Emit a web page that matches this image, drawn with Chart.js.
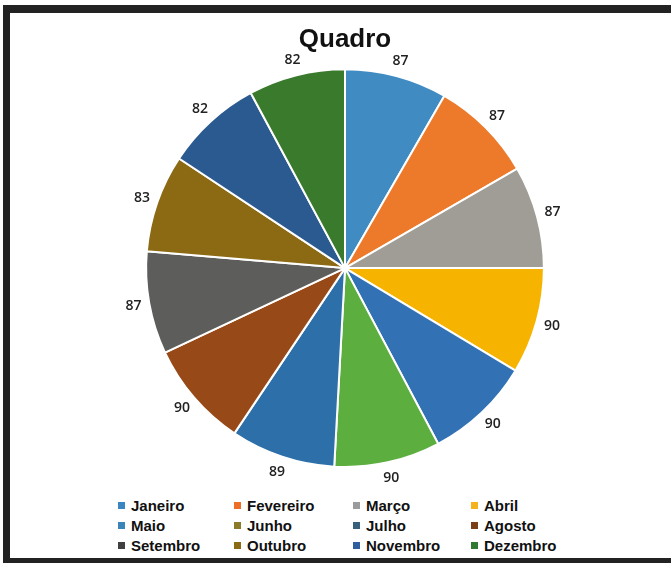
<!DOCTYPE html>
<html>
<head>
<meta charset="utf-8">
<script src="https://cdn.jsdelivr.net/npm/chart.js@4/dist/chart.umd.min.js"></script>
<style>
  html, body { margin: 0; padding: 0; background: #fff; }
  #page { position: relative; width: 671px; height: 563px; overflow: hidden; background: #fff; }
  .frame { position: absolute; background: #222; }
  #chartBox { position: absolute; left: 0; top: 0; width: 671px; height: 490px; }
  #legend {
    position: absolute; left: 118px; top: 495px; width: 480px;
    display: grid; grid-template-columns: 116px 119px 118px 120px;
    font-family: "Liberation Sans", Arial, sans-serif;
    font-weight: bold; font-size: 15px; color: #111;
  }
  #legend .item { display: flex; align-items: center; height: 20px; white-space: nowrap; }
  #legend .box { width: 7px; height: 7px; margin-right: 6px; flex: none; }
</style>
</head>
<body>
<div id="page">
  <div id="chartBox"><canvas id="chart"></canvas></div>
  <div id="legend"></div>
  <div class="frame" style="left:3px; top:5px; width:7px; height:558px;"></div>
  <div class="frame" style="left:3px; top:5px; width:668px; height:8px;"></div>
  <div class="frame" style="left:3px; top:558px; width:668px; height:5px;"></div>
</div>
<script>
const months = ['Janeiro', 'Fevereiro', 'Março', 'Abril', 'Maio', 'Junho',
  'Julho', 'Agosto', 'Setembro', 'Outubro', 'Novembro', 'Dezembro'];
const values = [87, 87, 87, 90, 90, 90, 89, 90, 87, 83, 82, 82];
const sliceColors = ['#3f8bc2', '#ec7a2a', '#a09d96', '#f6b400', '#3271b4', '#5cae3f',
  '#2d6fa9', '#974a17', '#5d5d5b', '#8c6a14', '#2b5a90', '#3a7a2c'];
const legendColors = ['#3a86c0', '#ec6f25', '#9b9b9b', '#f5b21c', '#3a84b8', '#8a7a2a',
  '#36607c', '#7a3f16', '#404040', '#8a6a14', '#2f5f9c', '#2f7a30'];

// value labels just outside each slice
const outsideLabels = {
  id: 'outsideLabels',
  afterDatasetsDraw(chart) {
    const ctx = chart.ctx;
    const meta = chart.getDatasetMeta(0);
    ctx.save();
    ctx.font = '600 14px "Open Sans", sans-serif';
    ctx.fillStyle = '#222';
    ctx.textAlign = 'center';
    ctx.textBaseline = 'middle';
    meta.data.forEach((arc, i) => {
      const p = arc.getProps(['x', 'y', 'startAngle', 'endAngle', 'outerRadius'], true);
      const mid = (p.startAngle + p.endAngle) / 2;
      const r = p.outerRadius + 16;
      ctx.fillText(values[i], p.x + Math.cos(mid) * r, p.y + Math.sin(mid) * r);
    });
    ctx.restore();
  }
};

new Chart(document.getElementById('chart').getContext('2d'), {
  type: 'pie',
  data: {
    labels: months,
    datasets: [{
      data: values,
      backgroundColor: sliceColors,
      borderColor: '#ffffff',
      borderWidth: 2,
    }]
  },
  options: {
    responsive: true,
    maintainAspectRatio: false,
    animation: false,
    layout: { padding: { left: 145, right: 126, top: 0, bottom: 22 } },
    plugins: {
      legend: { display: false },
      tooltip: { enabled: false },
      title: {
        display: true,
        text: 'Quadro',
        color: '#111',
        font: { size: 26, weight: 'bold', family: '"Liberation Sans", Arial, sans-serif' },
        padding: { top: 24, bottom: 13 }
      }
    }
  },
  plugins: [outsideLabels]
});

const legendEl = document.getElementById('legend');
months.forEach((m, i) => {
  const item = document.createElement('div');
  item.className = 'item';
  item.innerHTML = `<span class="box" style="background:${legendColors[i]}"></span>${m}`;
  legendEl.appendChild(item);
});
</script>
</body>
</html>
